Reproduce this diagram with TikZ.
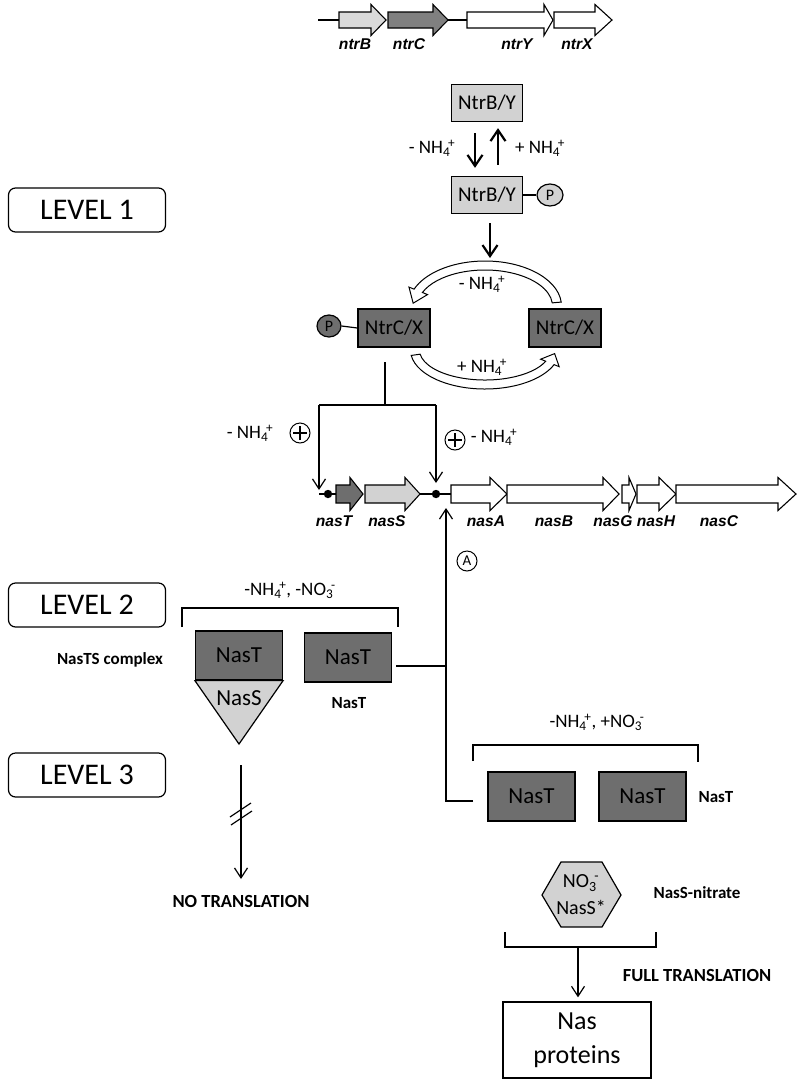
\documentclass[tikz,border=0pt]{standalone}
\usepackage{fontspec}
\setmainfont{Carlito}
\newfontfamily\genefont{Liberation Sans}
\usetikzlibrary{arrows.meta,calc,positioning,shapes.geometric}

\definecolor{lightgrey}{HTML}{D2D2D2}
\definecolor{genegrey}{HTML}{DADADA}
\definecolor{midgrey}{HTML}{808080}
\definecolor{darkgrey}{HTML}{6E6E6E}

% ammonium / nitrate with charge
\newcommand{\amm}{NH\textsubscript{4}\kern-0.12em\textsuperscript{+}}
\newcommand{\nitr}{NO\textsubscript{3}\kern-0.12em\textsuperscript{-}}

% gene arrow: fill, start, head start, tip (uses \gy, \bh, \hh)
\newcommand{\gene}[4]{\draw[line width=1.1pt, fill=#1] (#2,\gy-\bh) -- (#3,\gy-\bh) -- (#3,\gy-\hh) -- (#4,\gy) -- (#3,\gy+\hh) -- (#3,\gy+\bh) -- (#2,\gy+\bh) -- cycle;}

\begin{document}
\begin{tikzpicture}[x=1pt,y=-1pt,
  every node/.style={inner sep=0pt},
  lbox/.style={draw, line width=1.2pt, rounded corners=7pt, minimum width=157pt, minimum height=44pt, font=\fontsize{30}{32}\selectfont},
  ntrb/.style={draw, line width=1.3pt, fill=lightgrey, minimum width=71pt, minimum height=37pt, font=\fontsize{21}{23}\selectfont},
  ntrc/.style={draw, line width=1.3pt, fill=darkgrey, minimum width=72pt, minimum height=38pt, font=\fontsize{21}{23}\selectfont},
  nast/.style={draw, line width=1.2pt, fill=darkgrey, minimum width=87pt, minimum height=49pt, font=\fontsize{23}{25}\selectfont},
  phos/.style={draw, ellipse, line width=1.2pt, minimum width=26pt, minimum height=22pt, font=\fontsize{16}{16}\selectfont},
  lab/.style={font=\fontsize{19}{21}\selectfont},
  blab/.style={font=\bfseries\fontsize{17}{19}\selectfont},
  tlab/.style={font=\bfseries\fontsize{18.5}{20}\selectfont},
  glab/.style={font=\genefont\bfseries\itshape\fontsize{15.6}{17}\selectfont},
  thickarr/.style={line width=2.2pt, -{Straight Barb[length=11pt,width=15pt]}},
  thinarr/.style={line width=1.2pt, -{Straight Barb[length=10pt,width=13pt]}},
  thin/.style={line width=1.2pt},
  hollow/.style={draw, fill=white, line width=1pt},
  circled/.style={draw, circle, line width=1pt, minimum size=20pt, font=\fontsize{15}{15}\selectfont},
]
\useasboundingbox (0,0) rectangle (800,1085);

% ntr operon
\def\gy{20}\def\bh{8}\def\hh{15.5}
\draw[thin] (318,20) -- (339,20);
\draw[thin] (448,20) -- (467,20);
\gene{genegrey}{339}{371}{386}
\gene{midgrey}{388}{433}{448}
\gene{white}{467}{544}{553}
\gene{white}{554}{595}{612}
\node[glab] (ntrBl) at (355,44) {ntrB};
\node[glab] (ntrCl) at (409,44) {ntrC};
\node[glab] (ntrYl) at (517,44) {ntrY};
\node[glab] (ntrXl) at (577,44) {ntrX};

% levels
\node[lbox] (lev1) at (87,210) {LEVEL 1};
\node[lbox] (lev2) at (87,605) {LEVEL 2};
\node[lbox] (lev3) at (87,775) {LEVEL 3};

% NtrB/Y
\node[ntrb] (ntrb1) at (487,103) {NtrB/Y};
\node[ntrb] (ntrb2) at (487,195) {NtrB/Y};
\node[phos, fill=lightgrey] (p1) at (550,195) {P};
\draw[thin] (ntrb2.east) -- (p1.west);
\draw[thickarr] ([xshift=-12pt,yshift=-11pt]ntrb1.south) -- ([xshift=-12pt,yshift=8pt]ntrb2.north);
\draw[thickarr] ([xshift=11pt,yshift=11pt]ntrb2.north) -- ([xshift=11pt,yshift=-6pt]ntrb1.south);
\node[lab] (m1) at (432,148) {- \amm};
\node[lab] (p1l) at (540,148) {+ \amm};
\coordinate (cyctop) at (490,258);
\draw[thickarr] ([xshift=3pt,yshift=-9pt]ntrb2.south) -- (cyctop);

% NtrC/X cycle
\node[ntrc] (ntrcp) at (394,328) {NtrC/X};
\node[ntrc] (ntrc) at (565,328) {NtrC/X};
\node[phos, fill=darkgrey, minimum width=24pt] (p2) at (329,326) {P};
\draw[thin] (p2.east) -- (ntrcp.west);
\coordinate (cu) at (485,306);
\coordinate (cl) at (485,350);
\path[hollow] ($(cu)+(-5:76.5 and 45)$) arc[start angle=-5, end angle=-158, x radius=76.5, y radius=45]
  -- ($(cu)+(-158:82 and 50.5)$) -- ($(cu)+(-176:72 and 40.5)$) -- ($(cu)+(-158:62 and 30.5)$)
  -- ($(cu)+(-158:67.5 and 36)$) arc[start angle=-158, end angle=-5, x radius=67.5, y radius=36] -- cycle;
\path[hollow] ($(cl)+(172:74.5 and 39)$) arc[start angle=172, end angle=22, x radius=74.5, y radius=39]
  -- ($(cl)+(22:80 and 44.5)$) -- ($(cl)+(6:70 and 34.5)$) -- ($(cl)+(22:60 and 24.5)$)
  -- ($(cl)+(22:65.5 and 30)$) arc[start angle=22, end angle=172, x radius=65.5, y radius=30] -- cycle;
\node[lab] (cm) at (482,284) {- \amm};
\node[lab] (cp) at (482,367) {+ \amm};

% activation of nas promoters
\coordinate (ctop) at (385,362);
\coordinate (split) at (385,405);
\coordinate (tleft) at (319,405);
\coordinate (tright) at (436,405);
\coordinate (promT) at (319,490);
\coordinate (promA) at (436,483);
\draw[thin] (ctop) -- (split);
\draw[thin] (tleft) -- (tright);
\draw[thinarr] (tleft) -- (promT);
\draw[thinarr] (tright) -- (promA);
\node[circled] (plusL) at (300,433) {};
\draw[thin] ([xshift=-7pt]plusL.center) -- ([xshift=7pt]plusL.center) ([yshift=-7pt]plusL.center) -- ([yshift=7pt]plusL.center);
\node[circled] (plusR) at (455,440) {};
\draw[thin] ([xshift=-7pt]plusR.center) -- ([xshift=7pt]plusR.center) ([yshift=-7pt]plusR.center) -- ([yshift=7pt]plusR.center);
\node[lab] (nl) at (250,433) {- \amm};
\node[lab] (nr) at (494,437) {- \amm};

% nas operon
\def\gy{494}\def\bh{9}\def\hh{16.5}
\draw[thin] (319,494) -- (336,494);
\draw[thin] (420,494) -- (451,494);
\fill (328,494) circle (4.2);
\fill (436,494) circle (4.2);
\gene{darkgrey}{336}{350}{363}
\gene{lightgrey}{365}{405}{420}
\gene{white}{451}{490}{507}
\gene{white}{507}{603}{619}
\gene{white}{622}{629}{636}
\gene{white}{637}{659}{676}
\gene{white}{676}{778}{796}
\node[glab] (nasTl) at (334,521) {nasT};
\node[glab] (nasSl) at (387,521) {nasS};
\node[glab] (nasAl) at (486,521) {nasA};
\node[glab] (nasBl) at (554,521) {nasB};
\node[glab] (nasGl) at (613,521) {nasG};
\node[glab] (nasHl) at (656,521) {nasH};
\node[glab] (nasCl) at (719,521) {nasC};
\node[circled] (antiterm) at (467,561) {A};

% level 2
\node[lab] (cond2) at (290,590) {-\amm, -\nitr};
\draw[thin] (182,627) -- (182,608) -- (398,608) -- (398,627);
\node[nast] (nasts) at (239,655.5) {NasT};
\draw[line width=1.2pt, fill=lightgrey] (nasts.south west) -- (nasts.south east) -- (239,744) -- cycle;
\node[font=\fontsize{23}{25}\selectfont] (nass) at (239,698) {NasS};
\node[nast] (nast2) at (348,657.5) {NasT};
\node[blab] (nast2l) at (349,703) {NasT};
\node[blab] (complex) at (110,660) {NasTS complex};

% level 3
\node[lab] (cond3) at (597,722) {-\amm, +\nitr};
\draw[thin] (473,761) -- (473,745) -- (698,745) -- (698,762);
\node[nast] (nast3) at (531.5,796.5) {NasT};
\node[nast] (nast4) at (642.5,796.5) {NasT};
\node[blab] (nast4l) at (716,797) {NasT};
\coordinate (vjoin) at (446,666);
\coordinate (l3end) at (473,801);
\coordinate (nasin) at (446,508);
\draw[thin, shorten <=4pt] (nast2.east |- vjoin) -- (vjoin);
\draw[thinarr] (l3end) -- (446,801) -- (nasin);

% no translation
\coordinate (blockstart) at (241,765);
\coordinate (blockend) at (241,879);
\draw[thinarr] (blockstart) -- (blockend);
\draw[thin] (230,817) -- (251,803);
\draw[thin] (231,825) -- (252,811);
\node[tlab] (notrans) at (241,901) {NO TRANSLATION};

% full translation
\draw[line width=1.2pt, fill=lightgrey] (542,895) -- (561,862) -- (602,862) -- (621,895) -- (602,927) -- (561,927) -- cycle;
\node[font=\fontsize{20}{27}\selectfont, align=center] (hex) at (581,895) {\nitr\\NasS*};
\node[blab] (hexl) at (697,893) {NasS-nitrate};
\draw[thin] (505,932) -- (505,947) -- (656,947) -- (656,932);
\coordinate (fullstart) at (578,947);
\node[draw, line width=1.3pt, minimum width=148pt, minimum height=76pt, align=center, font=\fontsize{26}{34}\selectfont] (prot) at (577,1040) {Nas\\proteins};
\draw[thinarr, shorten >=4pt] (fullstart) -- (prot.north -| fullstart);
\node[tlab] (fulltrans) at (697,975) {FULL TRANSLATION};
\end{tikzpicture}
\end{document}
